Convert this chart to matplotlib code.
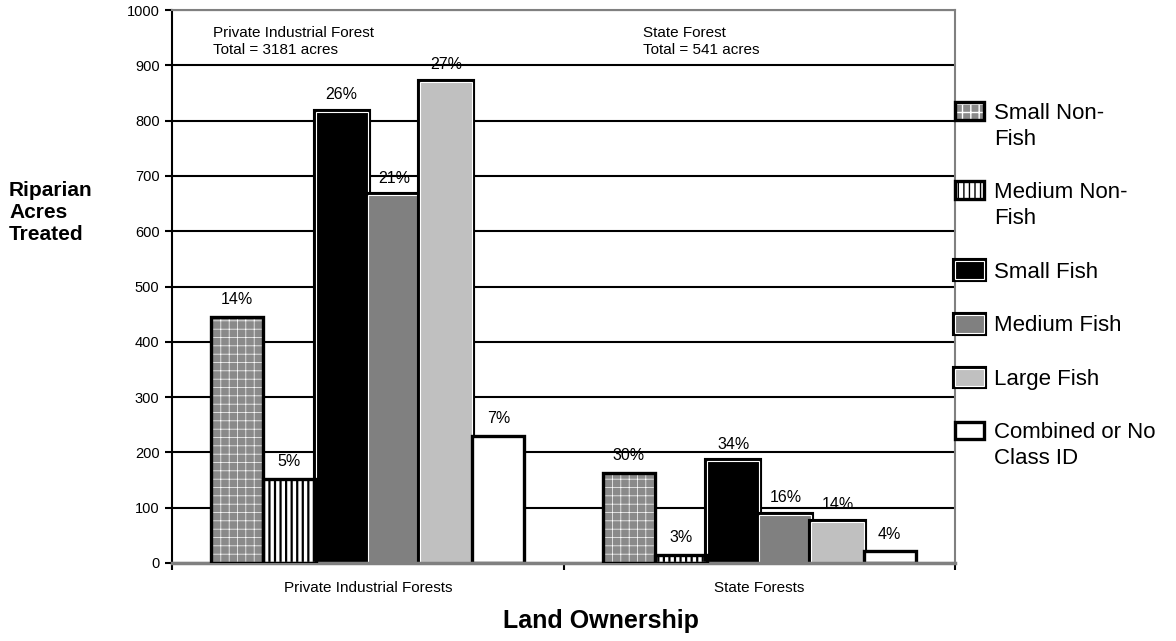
import matplotlib

matplotlib.use("Agg")

import matplotlib.patheffects as pe
import matplotlib.pyplot as plt
import numpy as np
from matplotlib.legend_handler import HandlerPatch, HandlerTuple, update_from_first_child

plt.rcParams["font.family"] = ["Liberation Sans", "DejaVu Sans"]

# Riparian acres treated, by land ownership and stream class
ownership = ["Private Industrial Forests", "State Forests"]
group_titles = ["Private Industrial Forest", "State Forest"]
group_totals = [3181, 541]
stream_classes = [
    "Small Non-\nFish",
    "Medium Non-\nFish",
    "Small Fish",
    "Medium Fish",
    "Large Fish",
    "Combined or No\nClass ID",
]
private_acres = [445, 152, 816, 665, 870, 230]
state_acres = [163, 15, 184, 87, 75, 21]
private_pct = ["14%", "5%", "26%", "21%", "27%", "7%"]
state_pct = ["30%", "3%", "34%", "16%", "14%", "4%"]
y_ticks = list(range(0, 1001, 100))

# where the group title blocks start, in x data units
TITLE_X = [-0.395, 0.703]
TITLE_Y = 943

# fill style for each stream class
CLASS_STYLES = [
    {"facecolor": "#8a8a8a", "hatch": "++", "hatch_color": "white", "hatch_lw": 0.5},
    {"facecolor": "white", "hatch": "|||", "hatch_color": "black", "hatch_lw": 1.6},
    {"facecolor": "black", "inner_line": True},
    {"facecolor": "#808080", "inner_line": True},
    {"facecolor": "#c0c0c0", "inner_line": True},
    {"facecolor": "white"},
]
EDGE_LW = 2.4


class RaisedBarHandler(HandlerPatch):
    """Legend patch nudged upward so it sits by the first line of a wrapped label."""

    def __init__(self, lift=0.0):
        super().__init__(update_func=update_from_first_child)
        self.lift = lift

    def create_artists(self, legend, orig_handle, xdescent, ydescent, width, height,
                       fontsize, trans):
        return super().create_artists(legend, orig_handle, xdescent,
                                      ydescent - self.lift * fontsize, width, height,
                                      fontsize, trans)


def draw_class(ax, x, heights, width, style):
    if "hatch" in style:
        with plt.rc_context({"hatch.linewidth": style["hatch_lw"]}):
            fill = ax.bar(x, heights, width, facecolor=style["facecolor"],
                          edgecolor=style["hatch_color"], linewidth=0,
                          hatch=style["hatch"], zorder=2)
        for p in fill:
            if hasattr(p, "set_hatch_linewidth"):
                p.set_hatch_linewidth(style["hatch_lw"])
        outline = ax.bar(x, heights, width, fill=False, edgecolor="black",
                         linewidth=EDGE_LW, zorder=3)
        return (fill, outline)
    if style.get("inner_line"):
        # black border with a thin white line just inside it
        return ax.bar(x, heights, width, facecolor=style["facecolor"],
                      edgecolor="white", linewidth=0.8, zorder=2,
                      path_effects=[pe.Stroke(linewidth=4.4, foreground="black"), pe.Normal()])
    return ax.bar(x, heights, width, facecolor=style["facecolor"],
                  edgecolor="black", linewidth=EDGE_LW, zorder=2)


def main() -> None:
    fig = plt.figure(figsize=(11.76, 6.41), dpi=100)
    ax = fig.add_axes([172 / 1176, 1 - 563 / 641, (955 - 172) / 1176, (563 - 10) / 641])

    idx = np.arange(len(ownership))
    n = len(stream_classes)
    width = 0.8 / n
    acres = np.array([private_acres, state_acres])
    pcts = [private_pct, state_pct]

    handles = []
    for i, style in enumerate(CLASS_STYLES):
        x = idx + (i - (n - 1) / 2) * width
        handles.append(draw_class(ax, x, acres[:, i], width, style))
        for g in range(len(ownership)):
            ax.annotate(pcts[g][i], (x[g], acres[g, i]), xytext=(0, 7),
                        textcoords="offset points", ha="center", va="bottom",
                        fontsize=11.5)

    for tx, title, total in zip(TITLE_X, group_titles, group_totals):
        ax.text(tx, TITLE_Y, f"{title}\nTotal = {total} acres", fontsize=11,
                ha="left", va="center", linespacing=1.35)

    ax.set_xlim(-0.5, len(ownership) - 0.5)
    ax.set_ylim(0, 1000)
    ax.set_yticks(y_ticks)
    ax.set_xticks(idx)
    ax.set_xticklabels(ownership, fontsize=11)
    ax.set_xticks(np.arange(len(ownership) + 1) - 0.5, minor=True)
    ax.tick_params(axis="x", which="major", length=0, pad=13)
    ax.tick_params(axis="x", which="minor", length=5, width=1.5, direction="out")
    ax.tick_params(axis="y", length=5, width=1.5, direction="out", pad=4, labelsize=10.5)

    ax.yaxis.grid(True, color="black", linewidth=1.5)
    ax.set_axisbelow(True)

    ax.spines["left"].set_color("black")
    ax.spines["left"].set_linewidth(1.5)
    ax.spines["bottom"].set_color("#808080")
    ax.spines["bottom"].set_linewidth(2.5)
    for side in ("top", "right"):
        ax.spines[side].set_color("#808080")
        ax.spines[side].set_linewidth(1.5)

    fig.text(9 / 1176, 1 - 212 / 641, "Riparian\nAcres\nTreated", fontsize=15,
             fontweight="bold", ha="left", va="center", linespacing=1.2)
    fig.text(601 / 1176, 1 - 621 / 641, "Land Ownership", fontsize=18,
             fontweight="bold", ha="center", va="center")

    # wrapped labels get their swatch lifted toward the first line;
    # layered bars are plain tuples of two BarContainers
    handler_map = {}
    for h, label in zip(handles, stream_classes):
        lift = 0.7 if "\n" in label else 0.0
        if type(h) is tuple:
            for part in h:
                handler_map[part] = RaisedBarHandler(lift)
            handler_map[h] = HandlerTuple(ndivide=1, pad=0)
        else:
            handler_map[h] = RaisedBarHandler(lift)

    leg = fig.legend(handles, stream_classes, handler_map=handler_map, loc="upper left",
                     bbox_to_anchor=(955 / 1176, 1 - 103 / 641), frameon=False,
                     fontsize=16, handlelength=1.3, handleheight=0.85,
                     handletextpad=0.45, labelspacing=1.45, borderpad=0,
                     borderaxespad=0)
    for t in leg.get_texts():
        t.set_linespacing(1.3)

    fig.savefig("out.png", dpi=100)
    plt.close(fig)


if __name__ == "__main__":
    main()
